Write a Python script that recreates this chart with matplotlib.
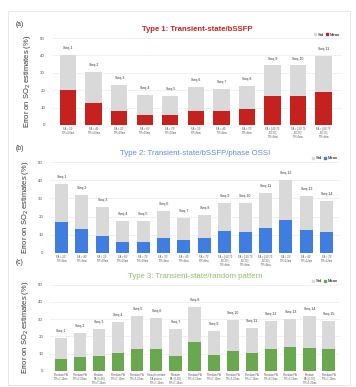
import matplotlib
matplotlib.use("Agg")
import matplotlib.pyplot as plt
from matplotlib.patches import Patch, Rectangle

plt.rcParams['font.family'] = ['Liberation Sans', 'DejaVu Sans']

# Type 1: transient-state bSSFP
mean_a = [20.1, 12.9, 7.8, 5.7, 5.9, 7.8, 7.8, 9.1, 16.7, 16.5, 19.2]
std_a = [20.0, 17.5, 15.0, 11.4, 10.8, 14.2, 12.7, 13.3, 17.5, 17.7, 20.3]
ticks_a = ["FA = 20°\nTR=4.8ms", "FA = 40°\nTR=4.8ms", "FA = 20°\nTR=10ms",
           "FA = 60°\nTR=10ms", "FA = 70°\nTR=10ms", "FA = 30°\nTR=6ms",
           "FA = 40°\nTR=6ms", "FA = 70°\nTR=6ms",
           "FA = [-60 70\n-50 20]°\nTR=5ms", "FA = [-30 70\n-50 20]°\nTR=5ms",
           "FA = [-60 70\n-50 20]°\nTR=6ms"]

# Type 2: transient-state bSSFP / phase OSSI
mean_b = [17.0, 13.0, 9.3, 6.0, 6.2, 8.4, 7.3, 8.2, 12.0, 11.5, 13.5, 18.3, 12.8, 11.4]
std_b = [21.0, 19.0, 16.2, 11.8, 11.6, 14.5, 11.9, 12.8, 15.7, 16.2, 19.5, 22.0, 18.5, 17.2]
ticks_b = ["FA = 20°\nTR=6ms", "FA = 40°\nTR=6ms", "FA = 20°\nTR=10ms",
           "FA = 60°\nTR=10ms", "FA = 70°\nTR=10ms", "FA = 30°\nTR=8ms",
           "FA = 40°\nTR=8ms", "FA = 70°\nTR=8ms",
           "FA = [-60 70\n-50 20]°\nTR=6ms", "FA = [-30 70\n-50 20]°\nTR=6ms",
           "FA = [-60 70\n-50 20]°\nTR=8ms", "FA = 20°\nTR=12ms",
           "FA = 40°\nTR=12ms", "FA = 70°\nTR=12ms"]

# Type 3: transient-state / random pattern
mean_c = [6.8, 7.8, 8.3, 10.5, 12.8, 12.4, 8.5, 16.7, 9.1, 11.6, 10.5, 12.8, 14.0, 13.4, 12.4]
std_c = [12.2, 14.2, 15.7, 17.8, 19.0, 18.2, 15.9, 20.1, 13.9, 17.9, 14.1, 15.9, 15.8, 18.2, 16.3]
ticks_c = ["Random FA\nTR=7-12ms", "Random FA\nTR=5-10ms", "Random\nFA=[0-60]\nTR=7-12ms",
           "Random FA\nTR=7-12ms", "Random FA\nTR=5-10ms", "Smooth random\nFA pattern\nTR=7-12ms",
           "Random\nFA=[0-30]\nTR=7-12ms", "Random FA\nTR=5-12ms", "Random FA\nTR=7-12ms",
           "Random FA\nTR=5-10ms", "Random FA\nTR=7-12ms", "Random FA\nTR=6-12ms",
           "Random FA\nTR=5-12ms", "Random\nFA=[0-70]\nTR=5-10ms", "Random FA\nTR=7-12ms"]

W, H = 356, 387
fig = plt.figure(figsize=(W / 100, H / 100), dpi=100)
fig.patches.append(Rectangle((8 / W, 2 / H), 342 / W, 1 - 13 / H, transform=fig.transFigure,
                             fill=False, edgecolor='#e4e4e4', linewidth=0.6))

# tag, title, title colour, weight, data, axes box in px (left, top, w, h), xlim, tag y px
panels = [
    ("(a)", "Type 1: Transient-state/bSSFP", '#c0281d', 'bold', mean_a, std_a, ticks_a,
     [52, 38, 290, 87], (-0.63, 10.72), 24),
    ("(b)", "Type 2: Transient-state/bSSFP/phase OSSI", '#5b8fe0', 'normal', mean_b, std_b, ticks_b,
     [50, 162, 290, 91], (-0.56, 13.65), 148),
    ("(c)", "Type 3: Transient-state/random pattern", '#8cc06a', 'normal', mean_c, std_c, ticks_c,
     [50, 284.7, 290, 86], (-0.56, 14.6), 263),
]
bar_colors = {'(a)': '#c5221f', '(b)': '#3f7ee0', '(c)': '#6aa84f'}

for tag, title, tcol, tweight, mean, std, ticks, box, xl, tag_y in panels:
    x0, ytop, w, h = box
    ax = fig.add_axes([x0 / W, 1 - (ytop + h) / H, w / W, h / H])
    xs = list(range(len(mean)))
    ax.bar(xs, mean, width=0.64, color=bar_colors[tag], zorder=3)
    ax.bar(xs, std, bottom=mean, width=0.64, color='#d9d9d9', zorder=3)
    for i in xs:
        ax.annotate(f"Seq {i + 1}", (i, mean[i] + std[i]), xytext=(0, 5),
                    textcoords='offset points', ha='center', va='center',
                    fontsize=2.6, color='#333333')
    ax.set_ylim(0, 50)
    ax.set_xlim(*xl)
    ax.set_yticks([0, 10, 20, 30, 40, 50])
    ax.set_xticks(xs)
    ax.set_xticklabels(ticks, fontsize=1.9, color='#555555', linespacing=1.0)
    ax.tick_params(axis='y', labelsize=3.2, labelcolor='#555555', length=0, pad=5)
    ax.tick_params(axis='x', length=0, pad=1.5)
    ax.grid(axis='y', color='#ebebeb', linewidth=0.5, zorder=0)
    for s in ax.spines.values():
        s.set_visible(False)
    ax.set_ylabel("Error on SO$_2$ estimates (%)", fontsize=5.4, color='#333333', labelpad=5)
    ax.set_title(title, fontsize=5.6, color=tcol, fontweight=tweight, pad=5)
    fig.text(16 / W, 1 - tag_y / H, tag, fontsize=4.8, color='#333333', va='center')
    ax.legend(handles=[Patch(color='#d9d9d9', label='Std'),
                       Patch(color=bar_colors[tag], label='Mean')],
              loc='center right', bbox_to_anchor=(1.0, 1.04), ncol=2, frameon=False,
              fontsize=3.0, handlelength=0.5, handleheight=0.5, handletextpad=0.3,
              columnspacing=0.6, borderpad=0)

fig.savefig("out.png", dpi=100)
